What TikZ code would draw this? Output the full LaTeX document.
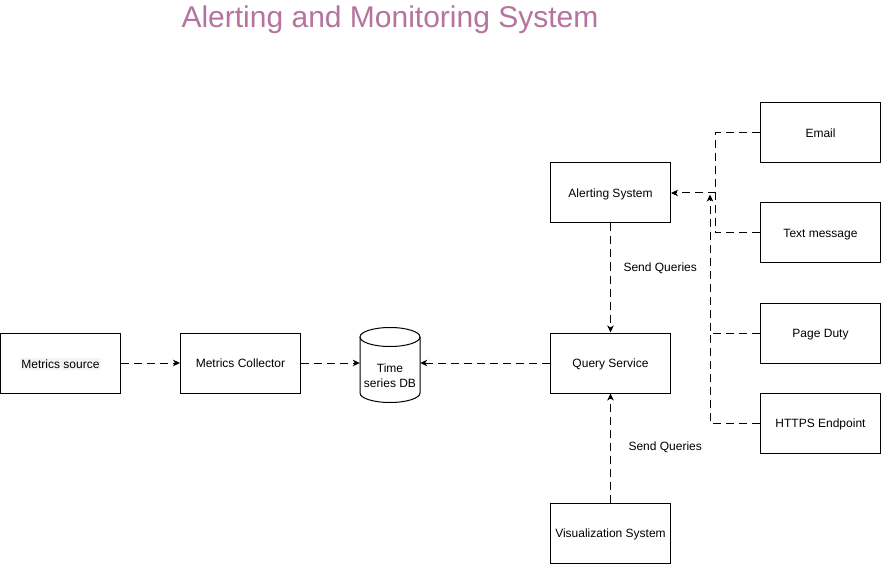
\documentclass[tikz,border=0pt]{standalone}
\usepackage{fontspec}
\setmainfont{Liberation Sans}
\usetikzlibrary{arrows.meta}
\definecolor{titlec}{HTML}{B5739D}
\definecolor{lblbg}{HTML}{F4F4F4}
\begin{document}
\begin{tikzpicture}[x=1pt,y=-1pt,
  box/.style={draw=black, line width=1pt, minimum width=120pt, minimum height=60pt, inner sep=0pt, font=\fontsize{12}{14}\selectfont, align=center, text depth=0pt},
  conn/.style={draw=black, line width=1pt, dash pattern=on 8pt off 5pt, -{Stealth[length=7pt,width=6.5pt,inset=2pt]}},
  dline/.style={draw=black, line width=1pt, dash pattern=on 8pt off 5pt},
  lbl/.style={font=\fontsize{12}{14}\selectfont, inner sep=0pt, anchor=west}]
\useasboundingbox (0,0) rectangle (881,564);
\node[font=\fontsize{30}{34}\selectfont, text=titlec, anchor=base, inner sep=0pt] (title) at (390,28) {Alerting and Monitoring System};
\node[box] (ms) at (60.5,363) {\setlength{\fboxsep}{1.5pt}\colorbox{lblbg}{Metrics source}};
\node[box] (mc) at (240.5,363) {Metrics Collector};
\node[box] (qs) at (610.5,363) {Query Service};
\node[box] (as) at (610.5,193) {Alerting System};
\node[box] (vs) at (610.5,533) {Visualization System};
\node[box] (email) at (820.5,133) {Email};
\node[box] (txt) at (820.5,233) {Text message};
\node[box] (pd) at (820.5,333) {Page Duty};
\node[box] (https) at (820.5,423) {HTTPS Endpoint};
% database
\node[minimum width=60pt, minimum height=20pt, inner sep=0pt, align=center, font=\fontsize{12}{15}\selectfont] (db) at (390,376) {Time\\series DB};
\draw[line width=1pt] ([shift={(0,-39)}]db.center) ellipse [x radius=30pt, y radius=9.5pt];
\draw[line width=1pt] ([shift={(-30,-39)}]db.center) -- ([shift={(-30,17)}]db.center)
  arc[start angle=180, end angle=360, x radius=30pt, y radius=9.5pt] -- ([shift={(30,-39)}]db.center);
% connectors
\draw[conn] (ms) -- (mc);
\draw[conn] (mc) -- (mc -| db.west);
\draw[conn] (qs) -- (qs -| db.east);
\draw[conn] (as) -- node[lbl, pos=0.41, xshift=12.5pt] {Send Queries} (qs);
\draw[conn] (vs) -- node[lbl, pos=0.51, xshift=17.5pt] {Send Queries} (qs);
\coordinate (j1) at (715,193);
\coordinate (j2) at (710,194.5);
\coordinate (j3) at (710,333);
\draw[conn] (email.west) -| (j1) -- (as.east);
\draw[dline] (txt.west) -| (j1);
\draw[conn] (pd.west) -| (j2);
\draw[dline] (https.west) -| (j3);
\end{tikzpicture}
\end{document}
